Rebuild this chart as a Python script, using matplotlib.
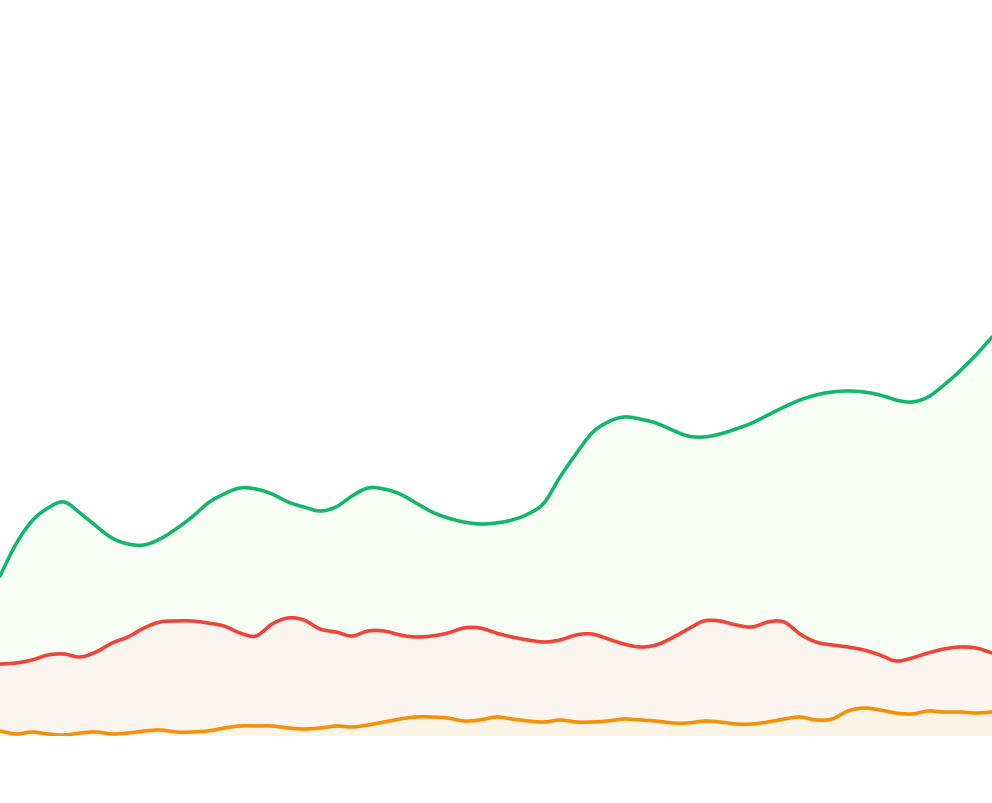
import numpy as np
import pandas as pd
import matplotlib
matplotlib.use("Agg")
import matplotlib.pyplot as plt

# daily values, three series
days = pd.date_range("2024-01-01", periods=63, freq="D")

green_vals = [160, 192, 215, 228, 234, 223, 210, 198, 192, 191,
              197, 207, 219, 233, 242, 248, 247, 242, 234, 229,
              225, 229, 240, 248, 247, 242, 233, 224, 218, 214,
              212, 213, 216, 222, 233, 259, 282, 303, 314, 319,
              317, 313, 306, 300, 299, 302, 307, 313, 321, 329,
              336, 341, 344, 345, 344, 341, 336, 334, 339, 351,
              365, 381, 399]

red_vals = [72, 73, 76, 81, 82, 79, 84, 93, 99, 108,
            114, 115, 115, 113, 110, 103, 100, 112, 118, 116,
            107, 104, 100, 105, 105, 101, 99, 100, 103, 108,
            108, 103, 99, 96, 94, 96, 101, 102, 97, 92,
            89, 91, 98, 107, 115, 115, 111, 109, 114, 114,
            102, 94, 91, 89, 86, 81, 75, 78, 83, 87,
            89, 88, 83]

orange_vals = [5, 2, 4, 2, 1, 3, 4, 2, 3, 5,
               6, 4, 4, 5, 8, 10, 10, 10, 8, 7,
               8, 10, 9, 11, 14, 17, 19, 19, 18, 15,
               16, 19, 17, 15, 14, 16, 14, 14, 15, 17,
               16, 15, 13, 13, 15, 14, 12, 12, 14, 17,
               19, 16, 17, 25, 28, 26, 23, 22, 25, 24,
               24, 23, 24]


def smooth(x, y, n=20):
    # catmull-rom style cubic, gives the soft curve of the original
    x = np.asarray(x, float)
    y = np.asarray(y, float)
    m = np.gradient(y, x)
    xs, ys = [], []
    for i in range(len(x) - 1):
        h = x[i + 1] - x[i]
        t = np.linspace(0, 1, n, endpoint=False)
        h00 = 2 * t**3 - 3 * t**2 + 1
        h10 = t**3 - 2 * t**2 + t
        h01 = -2 * t**3 + 3 * t**2
        h11 = t**3 - t**2
        xs.append(x[i] + t * h)
        ys.append(h00 * y[i] + h10 * h * m[i] + h01 * y[i + 1] + h11 * h * m[i + 1])
    xs.append([x[-1]])
    ys.append([y[-1]])
    return np.concatenate(xs), np.concatenate(ys)


fig = plt.figure(figsize=(9.92, 8.04), dpi=100)
ax = fig.add_axes([0, 67 / 804, 1, 737 / 804])

x = np.arange(len(days))
series = [
    (green_vals, "#12b76a", "#f8fef6"),
    (red_vals, "#f04438", "#faf5ee"),
    (orange_vals, "#f79009", "#fcf4e4"),
]
for vals, line_col, fill_col in series:
    sx, sy = smooth(x, vals)
    ax.fill_between(sx, 0, sy, color=fill_col, lw=0)
    ax.plot(sx, sy, color=line_col, lw=2.6, solid_capstyle="round")

ax.set_xlim(0, len(days) - 1)
ax.set_ylim(0, 737)
ax.axis("off")

fig.savefig("out.png", dpi=100)
